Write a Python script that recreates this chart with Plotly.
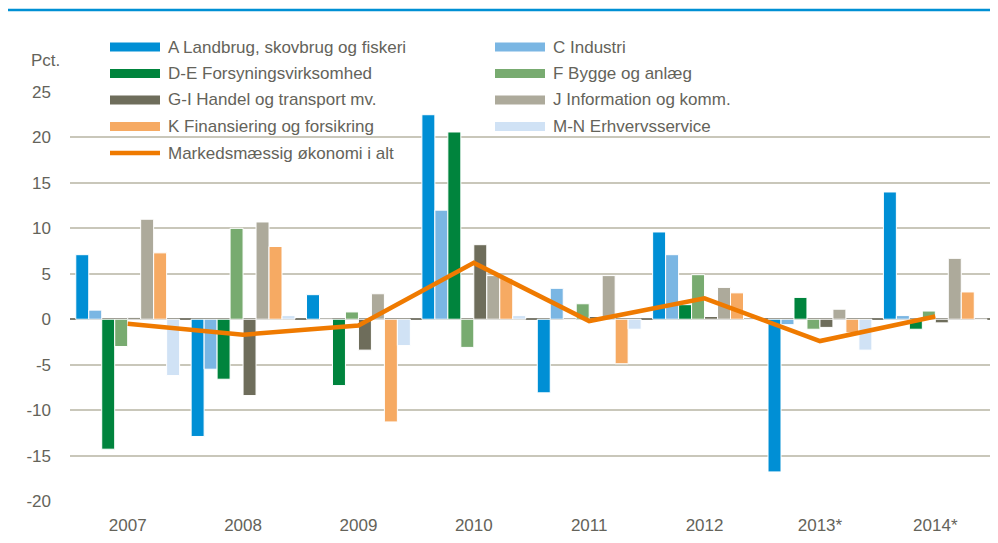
import plotly.graph_objects as go

years = ["2007", "2008", "2009", "2010", "2011", "2012", "2013*", "2014*"]

series_names = [
    "A Landbrug, skovbrug og fiskeri",
    "C Industri",
    "D-E Forsyningsvirksomhed",
    "F Bygge og anlæg",
    "G-I Handel og transport mv.",
    "J Information og komm.",
    "K Finansiering og forsikring",
    "M-N Erhvervsservice",
]
total_name = "Markedsmæssig økonomi i alt"

A = [7.1, -12.9, 2.7, 22.5, -8.1, 9.6, -16.8, 14.0]
C = [1.0, -5.5, 0.0, 12.0, 3.4, 7.1, -0.6, 0.4]
DE = [-14.3, -6.6, -7.3, 20.6, 0.0, 1.6, 2.4, -1.1]
F = [-3.0, 10.0, 0.8, -3.1, 1.7, 4.9, -1.1, 0.9]
GI = [0.2, -8.4, -3.4, 8.2, 0.3, 0.3, -0.9, -0.4]
J = [11.0, 10.7, 2.8, 4.8, 4.8, 3.5, 1.1, 6.7]
K = [7.3, 8.0, -11.3, 4.5, -4.9, 2.9, -1.5, 3.0]
MN = [-6.2, 0.4, -2.9, 0.4, -1.1, 0.0, -3.4, 0.0]
total = [-0.5, -1.7, -0.7, 6.2, -0.2, 2.3, -2.4, 0.3]

y_ticks = [25, 20, 15, 10, 5, 0, -5, -10, -15, -20]
y_tick_text = ["25", "20", "15", "10", "5", "0", "-5", "-10", "-15", "-20"]

colors = ["#008fd5", "#7ab6e3", "#00843d", "#78ab70", "#6e6d5b",
          "#adaa9b", "#f6aa63", "#d0e2f5"]
line_color = "#ef7a00"
text_color = "#64635a"
FONT = "Liberation Sans Narrow, Arial Narrow, Liberation Sans, sans-serif"
FS = 17

# page has an 8px body margin; figure coordinates are page coords minus 8
OFF = 8
W, H = 998 - OFF, 543 - OFF
L, R, T, B = 70 - OFF, 993 - OFF, 92 - OFF, 501 - OFF


def px(x):
    return (x - OFF - L) / (R - L)


def py(y):
    return (B - (y - OFF)) / (B - T)


fig = go.Figure()
for name, vals, col in zip(series_names, [A, C, DE, F, GI, J, K, MN], colors):
    fig.add_trace(go.Bar(x=years, y=vals, name=name, marker_color=col,
                         marker_line_color="white", marker_line_width=1,
                         showlegend=False))
fig.add_trace(go.Scatter(x=years, y=total, name=total_name, mode="lines",
                         line=dict(color=line_color, width=4.5),
                         showlegend=False))

shapes = []
annotations = []
# top blue rule
shapes.append(dict(type="line", xref="paper", yref="paper",
                   x0=px(8), x1=px(998), y0=py(10), y1=py(10),
                   line=dict(color="#0090d4", width=2.5)))

# manual legend
legend_items = list(zip(series_names, colors)) + [(total_name, line_color)]
col_x = [110, 495]
row_y = [47, 73.5, 100, 126.5, 153]
for i, (name, col) in enumerate(legend_items):
    cx = col_x[i % 2]
    ry = row_y[i // 2]
    if name == total_name:
        shapes.append(dict(type="line", xref="paper", yref="paper",
                           x0=px(cx), x1=px(cx + 50), y0=py(ry), y1=py(ry),
                           line=dict(color=col, width=4.5)))
    else:
        shapes.append(dict(type="rect", xref="paper", yref="paper",
                           x0=px(cx), x1=px(cx + 50), y0=py(ry - 4.5), y1=py(ry + 4.5),
                           fillcolor=col, line=dict(width=0)))
    annotations.append(dict(xref="paper", yref="paper", x=px(cx + 56), y=py(ry),
                            text=name, showarrow=False, xanchor="left",
                            yanchor="middle",
                            font=dict(family=FONT, size=FS, color=text_color)))

annotations.append(dict(xref="paper", yref="paper", x=px(62), y=py(60),
                        text="Pct.", showarrow=False, xanchor="right",
                        yanchor="middle",
                        font=dict(family=FONT, size=FS, color=text_color)))

fig.update_layout(
    width=W, height=H,
    margin=dict(l=L, r=W - R, t=T, b=H - B, pad=0),
    paper_bgcolor="white", plot_bgcolor="white",
    barmode="group", bargap=0.1, bargroupgap=0.0,
    font=dict(family=FONT, size=FS, color=text_color),
    shapes=shapes, annotations=annotations,
    xaxis=dict(type="category", showgrid=False, showline=False, zeroline=False,
               ticks="", tickfont=dict(family=FONT, size=FS, color=text_color),
               ticklabelstandoff=12),
    yaxis=dict(range=[-20, 25], tickvals=y_ticks, ticktext=y_tick_text,
               showgrid=True, gridcolor="#c9c7ba", gridwidth=1.6, zeroline=True,
               zerolinecolor="#7d7c70", zerolinewidth=2.2,
               showline=False, ticks="",
               tickfont=dict(family=FONT, size=FS, color=text_color),
               ticklabelstandoff=18),
)

fig.write_html("out.html")
